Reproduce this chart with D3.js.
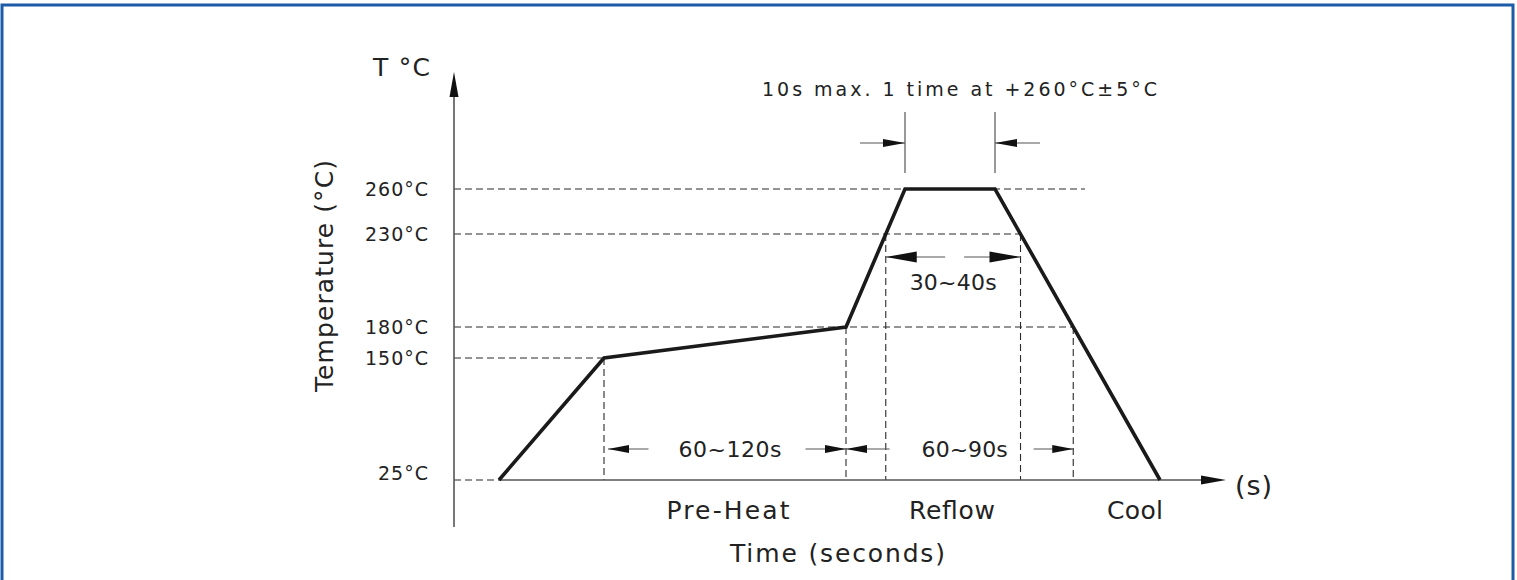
<!DOCTYPE html>
<html><head><meta charset="utf-8">
<script src="https://cdn.jsdelivr.net/npm/d3@7"></script>
<style>html,body{margin:0;padding:0;background:#fff;overflow:hidden}</style>
</head><body><svg id="c" width="1517" height="580"></svg>
<script>
// ---- data (schematic reflow profile) ----
const profileTime = [22.5, 75, 196, 225.5, 270.5, 353];   // seconds (schematic)
const profileTemp = [25, 150, 180, 260, 260, 25];          // °C
const tempTicks = [25, 150, 180, 230, 260];
const tempTickLabels = ["25°C", "150°C", "180°C", "230°C", "260°C"];
const zoneNames = ["Pre-Heat", "Reflow", "Cool"];
const zoneCenterTime = [137, 249, 340.5];
const spanLabels = ["60~120s", "60~90s", "30~40s"];
const peakNote = "10s max. 1 time at +260°C±5°C";
const timeMax = 386;

// ---- layout ----
const svg = d3.select("#c");
const ink = "#222", axisCol = "#555", dashCol = "#2a2a2a";
const font = "'DejaVu Sans', 'Liberation Sans', sans-serif";
const x = d3.scaleLinear().domain([0, timeMax]).range([454, 1226]);
const y = d3.scaleLinear().domain(tempTicks).range([480, 358, 327, 234, 189]);
const x0 = x(0), y0 = y(25), yTop = 72, yBottom = 527;

// border
svg.append("rect").attr("x", 2).attr("y", 5).attr("width", 1511).attr("height", 640)
  .attr("fill", "none").attr("stroke", "#1c5ba7").attr("stroke-width", 3);

function arrowHead(tx, ty, dx, dy, L, w, col) {
  const bx = tx - dx * L, by = ty - dy * L, px = -dy * w, py = dx * w;
  svg.append("path").attr("d", `M${tx},${ty}L${bx + px},${by + py}L${bx - px},${by - py}Z`)
    .attr("fill", col || "#111");
}
function text(str, tx, ty, size, len, anchor) {
  const t = svg.append("text").attr("x", tx).attr("y", ty).text(str)
    .attr("font-family", font).attr("font-size", size).attr("fill", ink)
    .attr("text-anchor", anchor || "middle");
  if (len) t.attr("textLength", len).attr("lengthAdjust", "spacing");
  return t;
}

const pts = profileTime.map((t, i) => [x(t), y(profileTemp[i])]);
function cross(temp, rising) {
  const yy = y(temp);
  for (let i = 0; i < pts.length - 1; i++) {
    const [ax, ay] = pts[i], [bx, by] = pts[i + 1];
    if (ay === by) continue;
    const ok = rising ? (ay >= yy && by <= yy) : (ay <= yy && by >= yy);
    if (ok) return ax + (yy - ay) / (by - ay) * (bx - ax);
  }
}
const x150up = cross(150, true), x180up = cross(180, true), x230up = cross(230, true);
const x230dn = cross(230, false), x180dn = cross(180, false);
const xPeakA = pts[3][0], xPeakB = pts[4][0];

// dashed guides
const dash = (xa, ya, xb, yb) => svg.append("line").attr("x1", xa).attr("y1", ya).attr("x2", xb).attr("y2", yb)
  .attr("stroke", dashCol).attr("stroke-width", 1.1).attr("stroke-dasharray", "7,4");
dash(x0, y(260), xPeakB + 90, y(260));
dash(x0, y(230), x230dn, y(230));
dash(x0, y(180), x180dn, y(180));
dash(x0, y(150), x150up, y(150));
dash(x0, y0, pts[0][0], y0);
[[x150up, 150], [x180up, 180], [x230up, 230], [x230dn, 230], [x180dn, 180]].forEach(([xx, t]) => dash(xx, y(t), xx, y0));

// axes
svg.append("line").attr("x1", x0).attr("y1", yBottom).attr("x2", x0).attr("y2", yTop + 20)
  .attr("stroke", axisCol).attr("stroke-width", 1.6);
arrowHead(x0, yTop, 0, -1, 25, 4.5);
svg.append("line").attr("x1", pts[0][0]).attr("y1", y0).attr("x2", x(timeMax) - 20).attr("y2", y0)
  .attr("stroke", axisCol).attr("stroke-width", 1.6);
arrowHead(x(timeMax), y0, 1, 0, 25, 4.5);

// profile
svg.append("path").attr("d", d3.line()(pts)).attr("fill", "none")
  .attr("stroke", "#1a1a1a").attr("stroke-width", 3.6).attr("stroke-linejoin", "miter");

// tick labels
tempTicks.forEach((t, i) => {
  text(tempTickLabels[i], 428, y(t) + (t === 25 ? 0 : 7), 19, tempTickLabels[i].length === 4 ? 50 : 63, "end");
});

// axis titles
text("T °C", 401.5, 76, 25, 57);
text("Time (seconds)", 837.5, 562, 25, 215);
text("(s)", 1253.5, 495, 27, 37);
svg.append("text").attr("transform", "translate(333,276) rotate(-90)").text("Temperature (°C)")
  .attr("font-family", font).attr("font-size", 25).attr("fill", ink).attr("text-anchor", "middle")
  .attr("textLength", 232).attr("lengthAdjust", "spacing");

// zone labels
zoneNames.forEach((z, i) => text(z, x(zoneCenterTime[i]), 519, 25, [123, 86, 56][i]));

function dimLine(xa, xb, yy) {
  svg.append("line").attr("x1", xa).attr("y1", yy).attr("x2", xb).attr("y2", yy)
    .attr("stroke", axisCol).attr("stroke-width", 1.2);
}
// 60~120s
{
  const yy = 449, cx = (x150up + x180up) / 2 + 5, tw = 103;
  text(spanLabels[0], cx, 457, 22, tw);
  dimLine(x150up + 4, cx - tw / 2 - 30, yy); arrowHead(x150up + 4, yy, -1, 0, 21, 4);
  dimLine(cx + tw / 2 + 24, x180up, yy); arrowHead(x180up, yy, 1, 0, 21, 4);
}
// 60~90s
{
  const yy = 449, cx = (x180up + x180dn) / 2 + 5, tw = 86;
  text(spanLabels[1], cx, 457, 22, tw);
  dimLine(x180up, cx - tw / 2 - 32, yy); arrowHead(x180up, yy, -1, 0, 21, 4);
  dimLine(cx + tw / 2 + 26, x180dn, yy); arrowHead(x180dn, yy, 1, 0, 21, 4);
}
// 30~40s
{
  const yy = 257, cx = (x230up + x230dn) / 2, tw = 87;
  text(spanLabels[2], cx, 290, 22, tw);
  dimLine(x230up, cx - 8, yy); arrowHead(x230up, yy, -1, 0, 31, 5.5);
  dimLine(cx + 11, x230dn, yy); arrowHead(x230dn, yy, 1, 0, 31, 5.5);
}
// peak dwell
{
  [xPeakA, xPeakB].forEach(xx => svg.append("line").attr("x1", xx).attr("y1", 112).attr("x2", xx).attr("y2", 173)
    .attr("stroke", axisCol).attr("stroke-width", 1.2));
  dimLine(xPeakA - 45, xPeakA, 143); arrowHead(xPeakA, 143, 1, 0, 22, 4);
  dimLine(xPeakB, xPeakB + 45, 143); arrowHead(xPeakB, 143, -1, 0, 22, 4);
  text(peakNote, (xPeakA + xPeakB) / 2 + 9.5, 96, 19, 395);
}
</script></body></html>
